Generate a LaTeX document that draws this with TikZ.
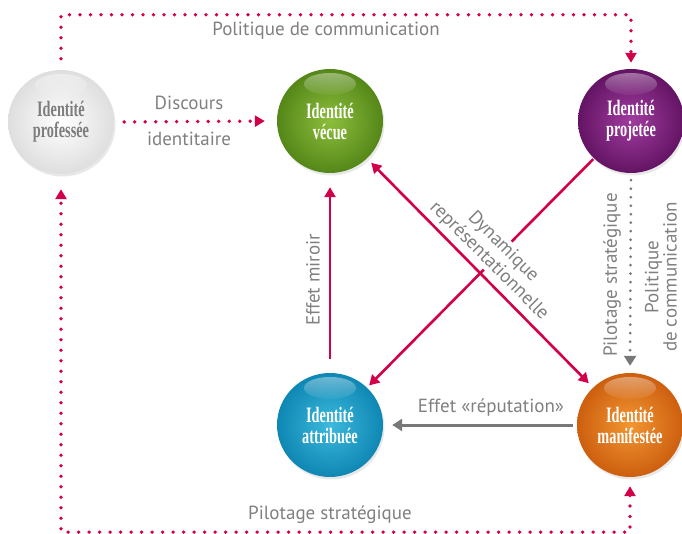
\documentclass[tikz,border=0pt]{standalone}
\usepackage{fontspec}
\setmainfont{PT Sans}
\newfontfamily\ballfont[FakeStretch=0.65]{Liberation Serif}
\usetikzlibrary{arrows.meta,shapes.geometric,fadings,shadows}
\definecolor{lbl}{RGB}{128,128,128}
\definecolor{rd}{RGB}{210,0,75}
\definecolor{gryarr}{RGB}{120,120,120}
\definecolor{gIn}{RGB}{140,190,60}
\definecolor{gOut}{RGB}{85,135,25}
\definecolor{pIn}{RGB}{160,60,160}
\definecolor{pOut}{RGB}{100,20,100}
\definecolor{bIn}{RGB}{60,185,220}
\definecolor{bOut}{RGB}{15,135,180}
\definecolor{oIn}{RGB}{242,150,50}
\definecolor{oOut}{RGB}{205,95,15}
\definecolor{wIn}{RGB}{255,255,255}
\definecolor{wOut}{RGB}{222,222,222}
\definecolor{wTxt}{RGB}{125,125,125}
\tikzfading[name=glossfade, top color=transparent!30, bottom color=transparent!92]
\tikzset{
  ball/.style={ellipse, minimum width=106pt, minimum height=104pt, inner sep=0pt,
    align=center, text=white, font=\ballfont\bfseries\fontsize{22}{21}\selectfont,
    drop shadow={opacity=0.18, shadow xshift=1.5pt, shadow yshift=-2.5pt}},
  lbltext/.style={text=lbl, font=\fontsize{19}{20}\selectfont, inner sep=1pt, align=center},
  reddot/.style={draw=rd, line width=3.8pt, line cap=round, dash pattern=on 0pt off 10.5pt},
  graydot/.style={draw=gryarr, line width=3pt, line cap=round, dash pattern=on 0pt off 8.5pt},
  redline/.style={draw=rd, line width=2.6pt},
  grayline/.style={draw=gryarr, line width=3pt},
  redtip/.style={-{Triangle[width=11pt,length=10pt]}},
  redtipboth/.style={{Triangle[width=11pt,length=10pt]}-{Triangle[width=11pt,length=10pt]}},
  graytip/.style={-{Triangle[width=12pt,length=10pt]}},
}
\begin{document}
\begin{tikzpicture}[x=1pt,y=-1pt]
\useasboundingbox (0,0) rectangle (682,534);
% balls
\node[ball, inner color=wIn, outer color=wOut, text=wTxt] (prof) at (61,122) {Identité\\professée};
\node[ball, inner color=gIn, outer color=gOut] (vec) at (330,121) {Identité\\vécue};
\node[ball, inner color=pIn, outer color=pOut] (proj) at (631,121) {Identité\\projetée};
\node[ball, inner color=bIn, outer color=bOut] (attr) at (330,425) {Identité\\attribuée};
\node[ball, inner color=oIn, outer color=oOut] (man) at (630,425) {Identité\\manifestée};
\foreach \b in {prof,vec,proj,attr,man}
  \fill[white, fill opacity=0.55, path fading=glossfade] ([yshift=37pt]\b.center) ellipse [x radius=26pt, y radius=11pt];
% labels
\node[lbltext] (polc) at (326,31) {Politique de communication};
\node[lbltext] (disc1) at (189,103) {Discours};
\node[lbltext] (disc2) at (189,139) {identitaire};
\node[lbltext, rotate=90] (miroir) at (313,280) {Effet miroir};
\node[lbltext] (rep) at (491,408) {Effet «réputation»};
\node[lbltext] (pilb) at (330,515) {Pilotage stratégique};
\node[lbltext, rotate=90] (pilr) at (612,275) {Pilotage stratégique};
\node[lbltext, rotate=90, font=\fontsize{19}{17}\selectfont] (polr) at (661,277) {Politique\\de communication};
% dotted loops
\draw[reddot, redtip, shorten <=11pt, shorten >=6pt] (prof.north) -- ++(0,-55) -| (proj.north);
\draw[reddot, redtipboth, shorten <=9pt, shorten >=15pt] (man.south) -- ++(0,55) -| (prof.south);
\draw[reddot, redtip, shorten <=10pt, shorten >=12pt] (prof.east) -- (vec.west);
% red solid
\draw[redline, redtip, shorten <=14pt, shorten >=14pt] (attr.north) -- (vec.south);
\draw[redline, redtip, shorten <=1pt, shorten >=3pt] (proj) -- (attr);
\node[lbltext, rotate=-45, fill=white, inner sep=1pt] (dyn) at (496,254) {Dynamique\\représentationnelle};
\draw[redline, redtipboth, shorten <=6pt, shorten >=6pt] (vec) -- (man);
% gray
\draw[graydot, graytip, shorten <=7pt, shorten >=7pt] (proj.south) -- (man.north);
\draw[grayline, graytip, shorten <=4pt, shorten >=9pt] (man.west) -- (attr.east);
\end{tikzpicture}
\end{document}
